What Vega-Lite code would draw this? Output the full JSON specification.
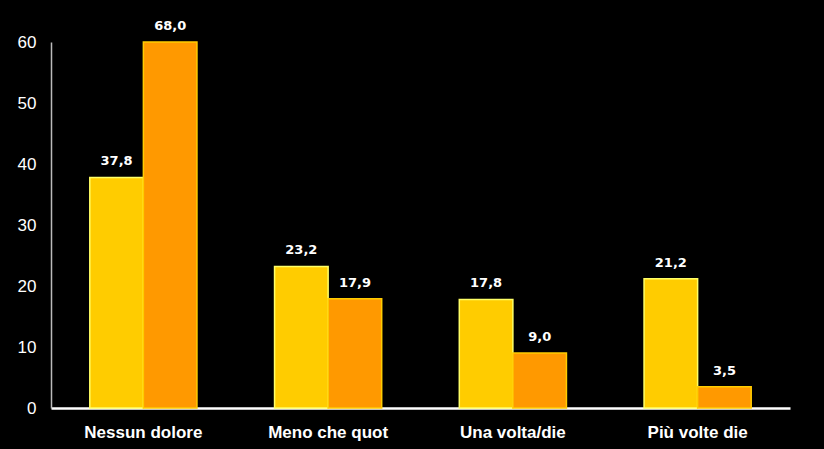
{
  "$schema": "https://vega.github.io/schema/vega-lite/v6.json",
  "width": 739,
  "height": 366,
  "autosize": {"type": "none"},
  "padding": {"left": 51, "top": 42, "right": 34, "bottom": 41},
  "background": "#000000",
  "config": {
    "view": {"stroke": null},
    "locale": {"number": {"decimal": ",", "thousands": ".", "grouping": [3], "currency": ["", "€"]}},
    "font": "Liberation Sans"
  },
  "data": {
    "values": [
      {"categoria": "Nessun dolore", "serie": "Serie 1", "valore": 37.8},
      {"categoria": "Nessun dolore", "serie": "Serie 2", "valore": 68.0},
      {"categoria": "Meno che quot", "serie": "Serie 1", "valore": 23.2},
      {"categoria": "Meno che quot", "serie": "Serie 2", "valore": 17.9},
      {"categoria": "Una volta/die", "serie": "Serie 1", "valore": 17.8},
      {"categoria": "Una volta/die", "serie": "Serie 2", "valore": 9.0},
      {"categoria": "Più volte die", "serie": "Serie 1", "valore": 21.2},
      {"categoria": "Più volte die", "serie": "Serie 2", "valore": 3.5}
    ]
  },
  "encoding": {
    "x": {
      "field": "categoria", "type": "nominal", "sort": null,
      "scale": {"paddingInner": 0.42, "paddingOuter": 0.21},
      "axis": {
        "title": null, "labelAngle": 0, "ticks": false,
        "domainColor": "#FFFFFF", "domainWidth": 2.5,
        "labelColor": "#FFFFFF", "labelFont": "Liberation Sans",
        "labelFontSize": 17, "labelFontWeight": "bold", "labelPadding": 16
      }
    },
    "xOffset": {"field": "serie", "type": "nominal", "scale": {"paddingInner": 0, "paddingOuter": 0}},
    "y": {
      "field": "valore", "type": "quantitative",
      "scale": {"domain": [0, 60], "clamp": true, "nice": false},
      "axis": {
        "title": null, "grid": false, "ticks": false,
        "values": [0, 10, 20, 30, 40, 50, 60],
        "domainColor": "#BBBBBB", "domainWidth": 1.5,
        "labelColor": "#FFFFFF", "labelFont": "Liberation Sans",
        "labelFontSize": 17, "labelPadding": 15
      }
    }
  },
  "layer": [
    {
      "mark": {"type": "bar", "strokeWidth": 1.5},
      "encoding": {
        "fill": {"field": "serie", "type": "nominal", "scale": {"range": ["#FFCC00", "#FF9900"]}, "legend": null},
        "stroke": {"field": "serie", "type": "nominal", "scale": {"range": ["#FFFF66", "#FFCC00"]}, "legend": null}
      }
    },
    {
      "mark": {"type": "text", "dy": -16, "color": "#FFFFFF", "fontSize": 13, "fontWeight": "bold", "font": "DejaVu Sans"},
      "encoding": {
        "text": {"field": "valore", "type": "quantitative", "format": ".1f"}
      }
    }
  ]
}
